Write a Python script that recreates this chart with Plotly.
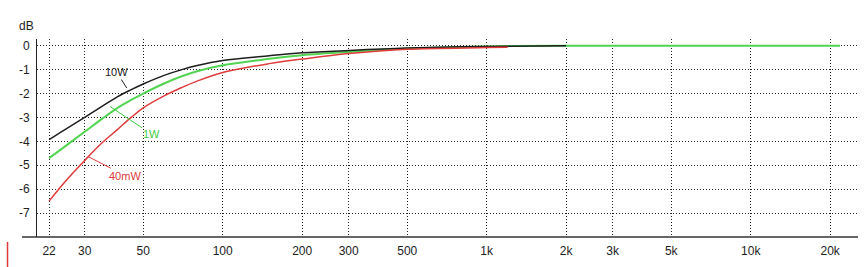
import plotly.graph_objects as go

# ---- data ----
freq_10w = [22, 25, 30, 35, 40, 45, 50, 60, 70, 80, 100, 150, 200, 300, 500, 1000, 2000]
db_10w = [-3.93, -3.54, -3.0, -2.53, -2.13, -1.84, -1.6, -1.24, -1.0, -0.83, -0.62, -0.42, -0.3, -0.2, -0.1, -0.03, 0.0]

freq_1w = [22, 25, 30, 35, 40, 45, 50, 60, 70, 80, 100, 150, 200, 300, 500, 1000, 2000, 5000, 10000, 21800]
db_1w = [-4.7, -4.25, -3.6, -3.05, -2.6, -2.27, -2.0, -1.58, -1.28, -1.07, -0.82, -0.55, -0.4, -0.26, -0.12, -0.03, 0.0, 0.0, 0.0, 0.0]

freq_40mw = [22, 25, 30, 35, 40, 45, 50, 60, 70, 80, 100, 150, 200, 300, 500, 1000, 1200]
db_40mw = [-6.5, -5.75, -4.8, -4.05, -3.5, -3.0, -2.6, -2.1, -1.75, -1.48, -1.12, -0.75, -0.56, -0.33, -0.15, -0.08, -0.06]

x_tickvals = [22, 30, 50, 100, 200, 300, 500, 1000, 2000, 3000, 5000, 10000, 20000]
x_ticktext = ["22", "30", "50", "100", "200", "300", "500", "1k", "2k", "3k", "5k", "10k", "20k"]
y_tickvals = [0, -1, -2, -3, -4, -5, -6, -7]
y_ticktext = ["0", "-1", "-2", "-3", "-4", "-5", "-6", "-7"]

FONT = "Liberation Sans"

fig = go.Figure()
fig.add_trace(go.Scatter(x=freq_1w, y=db_1w, mode="lines", name="1W", line_shape="spline",
                         line=dict(color="#52d452", width=2, smoothing=1)))
fig.add_trace(go.Scatter(x=freq_10w, y=db_10w, mode="lines", name="10W", line_shape="spline",
                         line=dict(color="#1e1e1e", width=1.5, smoothing=1)))
fig.add_trace(go.Scatter(x=freq_40mw, y=db_40mw, mode="lines", name="40mW", line_shape="spline",
                         line=dict(color="#e03a3a", width=1.5, smoothing=1)))

grid = dict(showgrid=True, gridcolor="#222", gridwidth=1, griddash="1px,2px")

fig.update_xaxes(type="log", range=[1.2966, 4.4064], tickvals=x_tickvals, ticktext=x_ticktext,
                 ticks="outside", ticklen=3, tickcolor="rgba(0,0,0,0)",
                 showline=False, zeroline=False,
                 tickfont=dict(family=FONT, size=12, color="#222"), **grid)
fig.update_yaxes(range=[-8, 0.28], tickvals=y_tickvals, ticktext=y_ticktext,
                 ticks="outside", ticklen=4, tickcolor="rgba(0,0,0,0)",
                 showline=True, linecolor="#222", linewidth=1, zeroline=False,
                 tickfont=dict(family=FONT, size=12, color="#222"), **grid)

annots = [
    dict(x=1.6364, y=-1.77, text="10W", color="#222", ax=-10, ay=-16),
    dict(x=1.5729, y=-2.54, text="1W", color="#3ccf3c", ax=42, ay=28),
    dict(x=1.4910, y=-4.64, text="40mW", color="#e03a3a", ax=37, ay=19),
]
for a in annots:
    fig.add_annotation(x=a["x"], y=a["y"], xref="x", yref="y", text=a["text"],
                       showarrow=True, arrowhead=0, arrowwidth=1, arrowcolor=a["color"],
                       ax=a["ax"], ay=a["ay"], standoff=0,
                       font=dict(family=FONT, size=11, color=a["color"]))

fig.add_annotation(xref="paper", yref="paper", x=0, y=1, xshift=-20, yshift=22,
                   text="dB", showarrow=False,
                   font=dict(family=FONT, size=12, color="#222"))

# bottom axis line extends left beyond the y axis
fig.add_shape(type="line", xref="paper", yref="paper", x0=-0.0183, x1=1, y0=0, y1=0,
              line=dict(color="#333", width=1.5))
# small red mark at the lower left
fig.add_shape(type="line", xref="paper", yref="paper", x0=-0.0359, x1=-0.0359, y0=-0.025, y1=-0.152,
              line=dict(color="#e03a3a", width=1.5))

fig.update_layout(width=867, height=267, margin=dict(l=37, r=9, t=39, b=30),
                  paper_bgcolor="white", plot_bgcolor="white", showlegend=False)

fig.write_html("out.html")
